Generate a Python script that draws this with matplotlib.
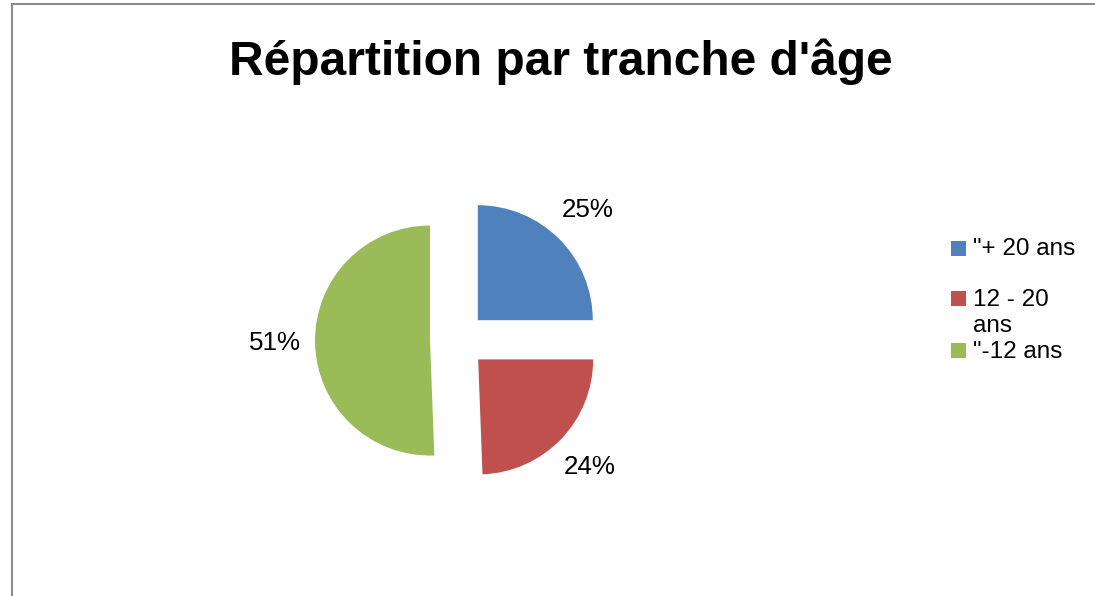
import matplotlib
matplotlib.use("Agg")
import matplotlib.pyplot as plt
from matplotlib.patches import Rectangle

categories = ['"+ 20 ans', '12 - 20 ans', '"-12 ans']
values = [25.0, 24.4, 50.6]
colors = ['#4F81BD', '#C0504D', '#9BBB59']
title = "Répartition par tranche d'âge"

plt.rcParams['font.family'] = ['Liberation Sans', 'DejaVu Sans']

W, H = 1095, 596
fig = plt.figure(figsize=(W / 100, H / 100), dpi=100)
ax = fig.add_axes([0, 0, 1, 1])

# outer chart border (top and left visible)
fig.patches.append(Rectangle((12 / W, -0.05), 1.2, (H - 4) / H + 0.05,
                             transform=fig.transFigure, fill=False,
                             edgecolor='#8c8c8c', linewidth=1.5))

R = 115
wedges, texts, autotexts = ax.pie(
    values, colors=colors, startangle=90, counterclock=False,
    center=(458, H - 340), radius=R, explode=[28] * 3,
    autopct='%1.0f%%', pctdistance=1.35, frame=True,
    textprops=dict(fontsize=18.7, color='black'),
    wedgeprops=dict(linewidth=0))
ax.set_xlim(0, W)
ax.set_ylim(0, H)
ax.set_aspect('equal')
ax.axis('off')

fig.text(561 / W, 1 - 75 / H, title, ha='center', va='baseline',
         fontsize=34.5, fontweight='bold')

# legend
sq_top = [241, 291, 343]
baselines = [255, 306, 358]
for i, (lab, c) in enumerate(zip(categories, colors)):
    fig.patches.append(Rectangle((951 / W, 1 - (sq_top[i] + 15) / H), 15 / W, 15 / H,
                                 transform=fig.transFigure, facecolor=c,
                                 edgecolor='none'))
    if lab == '12 - 20 ans':
        fig.text(973 / W, 1 - baselines[i] / H, '12 - 20', ha='left', va='baseline', fontsize=17.5)
        fig.text(973 / W, 1 - 332 / H, 'ans', ha='left', va='baseline', fontsize=17.5)
    else:
        fig.text(973 / W, 1 - baselines[i] / H, lab, ha='left', va='baseline', fontsize=17.5)

fig.savefig('out.png', dpi=100)
